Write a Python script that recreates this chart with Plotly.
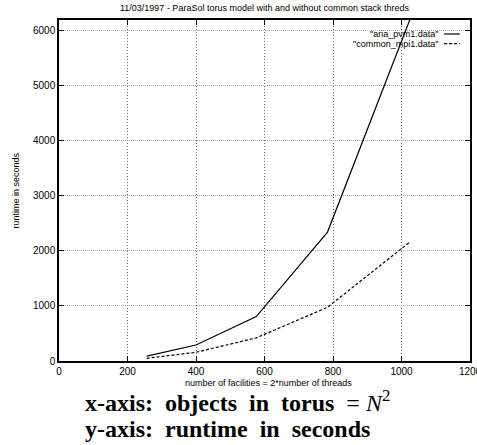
import plotly.graph_objects as go

x_vals = [256, 400, 576, 784, 1024]
aria_pvm1 = [90, 290, 806, 2340, 6190]
common_mpi1 = [49, 158, 420, 975, 2158]
x_ticks = [0, 200, 400, 600, 800, 1000, 1200]
y_ticks = [0, 1000, 2000, 3000, 4000, 5000, 6000]
series_names = ['"aria_pvm1.data"', '"common_mpi1.data"']

fig = go.Figure()
fig.add_trace(go.Scatter(x=x_vals, y=aria_pvm1, mode="lines", name=series_names[0],
                         line=dict(color="black", width=1.2, dash="solid"), showlegend=False))
fig.add_trace(go.Scatter(x=x_vals, y=common_mpi1, mode="lines", name=series_names[1],
                         line=dict(color="black", width=1.2, dash="3px,2px"), showlegend=False))

# legend drawn gnuplot-style (text right, sample on right)
for i, (nm, dash) in enumerate(zip(series_names, ["solid", "3px,2px"])):
    yy = 0.959 - i * 0.028
    fig.add_annotation(xref="paper", yref="paper", x=0.927, y=yy, text=nm, showarrow=False,
                       xanchor="right", yanchor="middle",
                       font=dict(family="Liberation Sans, Arial", size=9, color="black"))
    fig.add_shape(type="line", xref="paper", yref="paper", x0=0.937, x1=0.975, y0=yy, y1=yy,
                  line=dict(color="black", width=1.2, dash=dash))

fig.add_annotation(xref="paper", yref="paper", x=0.5, y=1.0, yshift=12,
                   text="11/03/1997 - ParaSol torus model with and without common stack threds",
                   showarrow=False, xanchor="center", yanchor="middle",
                   font=dict(family="Liberation Sans, Arial", size=9, color="black"))

fig.add_annotation(xref="paper", yref="paper", x=-0.107, y=0.5, textangle=-90,
                   text="runtime in seconds", showarrow=False, xanchor="center", yanchor="middle",
                   font=dict(family="Liberation Sans, Arial", size=9, color="black"))

fig.add_annotation(xref="paper", yref="paper", x=0.51, y=0, yshift=-22,
                   text="number of facilities = 2*number of threads", showarrow=False,
                   xanchor="center", yanchor="middle",
                   font=dict(family="Liberation Sans, Arial", size=9, color="black"))

fig.add_annotation(xref="paper", yref="paper", x=0.058, y=0, yshift=-40,
                   text="<b>x-axis:  objects  in  torus</b>  = <i>N</i><sup>2</sup>",
                   showarrow=False, xanchor="left", yanchor="middle",
                   font=dict(family="Liberation Serif, Times New Roman", size=24, color="black"))
fig.add_annotation(xref="paper", yref="paper", x=0.058, y=0, yshift=-68,
                   text="<b>y-axis:  runtime  in  seconds</b>",
                   showarrow=False, xanchor="left", yanchor="middle",
                   font=dict(family="Liberation Serif, Times New Roman", size=24, color="black"))

axis_common = dict(showline=True, linecolor="black", linewidth=1.5, mirror="ticks",
                   ticks="inside", ticklen=5, tickcolor="black", zeroline=False,
                   showgrid=True, gridwidth=1, ticklabeloverflow="allow", automargin=False,
                   tickfont=dict(family="Liberation Sans, Arial", size=10, color="black"))
fig.update_xaxes(range=[0, 1200], tickvals=x_ticks, griddash="1px,2px", gridcolor="#666666", **axis_common)
fig.update_yaxes(range=[0, 6190], tickvals=y_ticks, griddash="1px,1px", gridcolor="#aaaaaa", **axis_common)

fig.update_layout(width=477, height=445, margin=dict(l=59, r=7, t=20, b=84),
                  plot_bgcolor="white", paper_bgcolor="white", showlegend=False)
fig.write_html("out.html", config={"displayModeBar": False},
               post_script="document.body.style.margin='0';")
